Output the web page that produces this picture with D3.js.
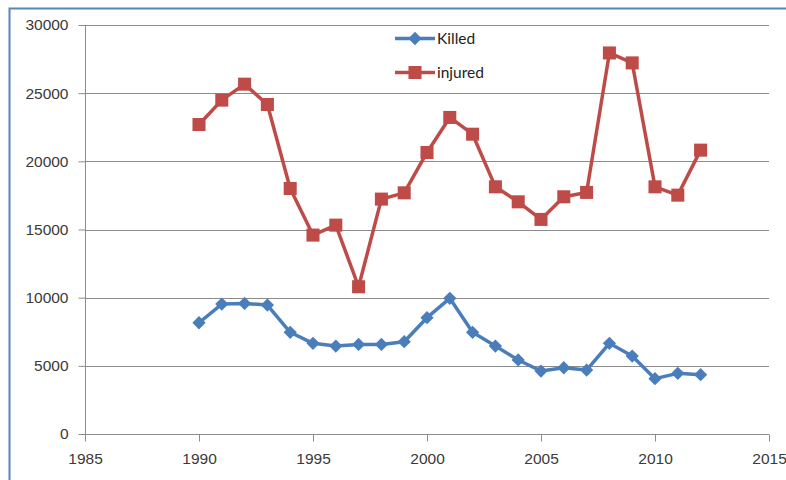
<!DOCTYPE html>
<html lang="en">
<head>
    <meta charset="UTF-8">
    <title>Killed and injured</title>
    <script src="https://d3js.org/d3.v7.min.js"></script>
    <style>
        body { margin: 0; background: #fff; }
        svg { display: block; font-family: Lato, "Open Sans", sans-serif; }
        .grid line { stroke: #8c8c8c; stroke-width: 1px; }
        .axis text { fill: #3a3a3a; font-size: 15.5px; }
        .axis path, .axis line { stroke: #8c8c8c; }
        .legend text { fill: #222; font-size: 15.5px; }
    </style>
</head>
<body>
    <svg width="786" height="480"></svg>
    <script>
        const years = [1990, 1991, 1992, 1993, 1994, 1995, 1996, 1997, 1998, 1999, 2000,
                       2001, 2002, 2003, 2004, 2005, 2006, 2007, 2008, 2009, 2010, 2011, 2012];
        const killed = [8160, 9530, 9580, 9460, 7460, 6650, 6450, 6570, 6570, 6770, 8530,
                        9950, 7460, 6450, 5430, 4620, 4860, 4690, 6650, 5720, 4060, 4450, 4350];
        const injured = [22700, 24490, 25660, 24170, 18010, 14590, 15320, 10800, 17230, 17690, 20650,
                         23220, 21990, 18130, 17030, 15740, 17400, 17720, 27950, 27220, 18130, 17520, 20820];
        const xTicks = [1985, 1990, 1995, 2000, 2005, 2010, 2015];
        const yTicks = [0, 5000, 10000, 15000, 20000, 25000, 30000];

        const svg = d3.select("svg");
        const x = d3.scaleLinear().domain([1985, 2015]).range([85, 769]);
        const y = d3.scaleLinear().domain([0, 30000]).range([434, 25]);

        // chart frame (left and top edges only visible)
        svg.append("path")
            .attr("d", "M9.5,480 L9.5,8.5 L786,8.5")
            .attr("fill", "none")
            .attr("stroke", "#5b84bd")
            .attr("stroke-width", 2);

        // horizontal gridlines
        svg.append("g").attr("class", "grid")
            .selectAll("line")
            .data(yTicks.filter(d => d > 0))
            .enter().append("line")
            .attr("x1", 85).attr("x2", 769)
            .attr("y1", d => Math.round(y(d)) + 0.5)
            .attr("y2", d => Math.round(y(d)) + 0.5);

        const yAxis = svg.append("g").attr("class", "axis")
            .attr("transform", "translate(85.5,0)")
            .call(d3.axisLeft(y).tickValues(yTicks).tickSize(7).tickPadding(10).tickFormat(d3.format("d")));
        yAxis.select(".domain").attr("d", `M0,${y(30000)}V${y(0)}`);

        const xAxis = svg.append("g").attr("class", "axis")
            .attr("transform", "translate(0,434.5)")
            .call(d3.axisBottom(x).tickValues(xTicks).tickSize(7).tickPadding(11).tickFormat(d3.format("d")));
        xAxis.select(".domain").attr("d", `M${x(1985)},0H${x(2015)}`);

        // square rotated 45 degrees gives the even diamond marker
        const series = [
            { name: "Killed", values: killed, color: "#4a7ebb", size: 88, rotate: 45 },
            { name: "injured", values: injured, color: "#be4b48", size: 170, rotate: 0 }
        ];

        const line = d3.line()
            .x((d, i) => x(years[i]))
            .y(d => y(d));

        series.forEach(s => {
            svg.append("path")
                .datum(s.values)
                .attr("fill", "none")
                .attr("stroke", s.color)
                .attr("stroke-width", 3.5)
                .attr("stroke-linejoin", "round")
                .attr("d", line);

            svg.append("g")
                .selectAll("path")
                .data(s.values)
                .enter().append("path")
                .attr("transform", (d, i) => `translate(${x(years[i])},${y(d)}) rotate(${s.rotate})`)
                .attr("d", d3.symbol().type(d3.symbolSquare).size(s.size))
                .attr("fill", s.color);
        });

        // legend
        const legend = svg.append("g").attr("class", "legend");
        const legendY = [38.5, 72.5];
        series.forEach((s, i) => {
            const g = legend.append("g").attr("transform", `translate(0,${legendY[i]})`);
            g.append("line")
                .attr("x1", 395).attr("x2", 435)
                .attr("stroke", s.color)
                .attr("stroke-width", 3.5);
            g.append("path")
                .attr("transform", `translate(415,0) rotate(${s.rotate})`)
                .attr("d", d3.symbol().type(d3.symbolSquare).size(s.size))
                .attr("fill", s.color);
            g.append("text")
                .attr("x", 437)
                .attr("dy", "0.35em")
                .text(s.name);
        });
    </script>
</body>
</html>
